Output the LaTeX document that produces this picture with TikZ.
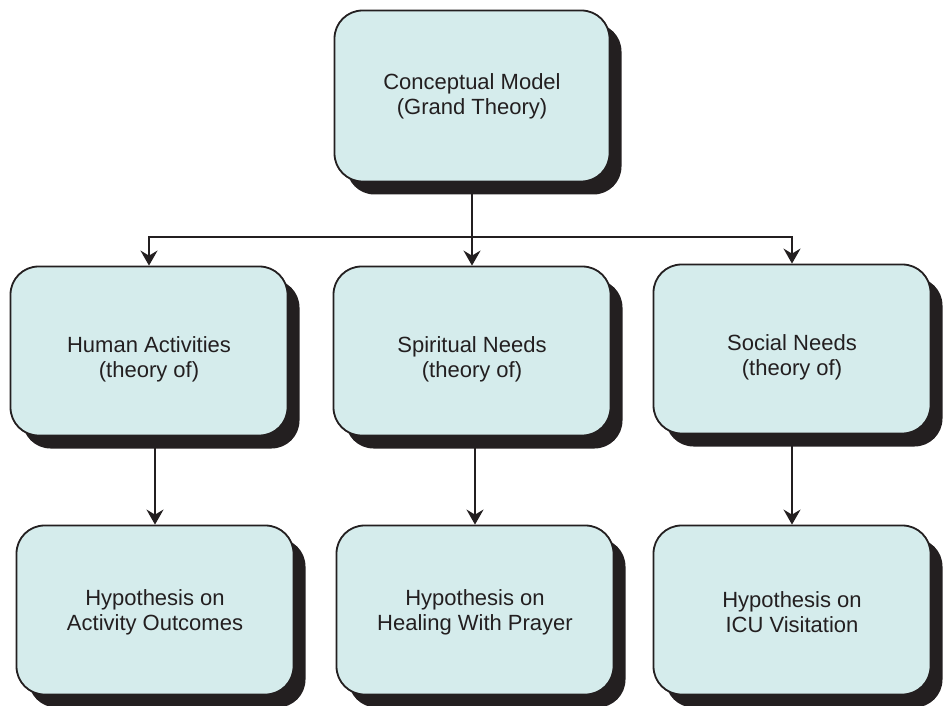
\documentclass[tikz,border=0pt]{standalone}
\usepackage{fontspec}
\setmainfont{Liberation Sans}
\usetikzlibrary{arrows.meta,shadows,calc}
\definecolor{boxfill}{RGB}{213,236,236}
\definecolor{inkc}{RGB}{35,31,32}
\pgfdeclarelayer{background}
\pgfsetlayers{background,main}
\begin{document}
\begin{tikzpicture}[x=1pt,y=-1pt,
  box/.style={draw=inkc, line width=1.8pt, fill=boxfill, rounded corners=28pt,
    minimum width=277pt, minimum height=169pt, align=center, text=inkc,
    font=\fontsize{22}{25}\selectfont, inner sep=0pt,
    drop shadow={shadow xshift=12pt, shadow yshift=-13pt, fill=inkc, opacity=1}},
  midrow/.style={text height=57pt},
  lowrow/.style={text height=46pt},
  conn/.style={draw=inkc, line width=1.8pt},
  arr/.style={conn, -{Stealth[length=15pt,width=17pt,inset=5pt]}}]
\useasboundingbox (0,0) rectangle (946,706);
\node[box, minimum height=171pt, minimum width=275pt] (top) at (472,96) {Conceptual Model\\(Grand Theory)};
\node[box, midrow] (h2) at (149,351) {Human Activities\\(theory of)};
\node[box, midrow] (s2) at (472,351) {Spiritual Needs\\(theory of)};
\node[box, midrow] (c2) at (792,349) {Social Needs\\(theory of)};
\node[box, lowrow] (h3) at (155,610) {Hypothesis on\\Activity Outcomes};
\node[box, lowrow] (s3) at (475,610) {Hypothesis on\\Healing With Prayer};
\node[box, lowrow] (c3) at (792,610) {Hypothesis on\\ICU Visitation};
\coordinate (j) at (472,237);
\begin{pgfonlayer}{background}
\draw[conn] (top.south) -- (j);
\draw[arr] (j) -| (h2.north);
\draw[arr] (j) -- (s2.north);
\draw[arr] (j) -| (c2.north);
\draw[arr] (h3.north |- h2.south) -- (h3.north);
\draw[arr] (s3.north |- s2.south) -- (s3.north);
\draw[arr] (c3.north |- c2.south) -- (c3.north);
\end{pgfonlayer}
\end{tikzpicture}
\end{document}
